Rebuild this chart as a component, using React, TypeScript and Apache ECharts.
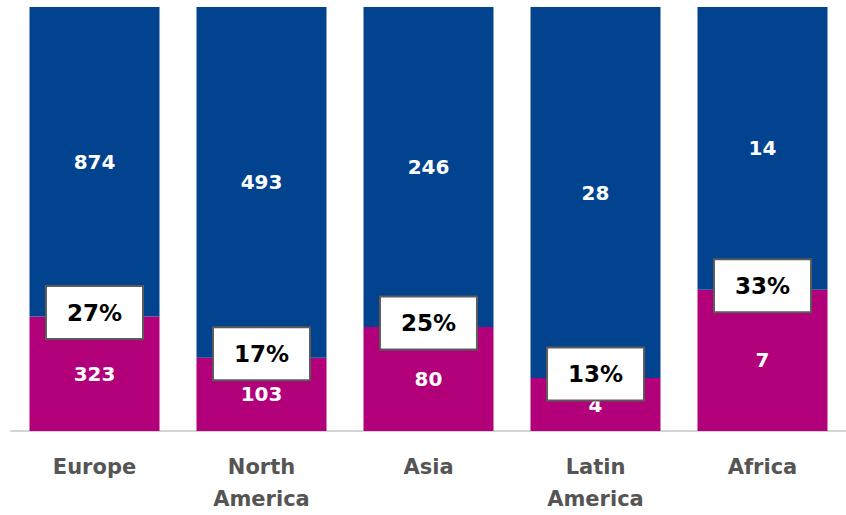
import React, { useEffect, useRef } from "react";
import * as echarts from "echarts";

const categories = ["Europe", "North\nAmerica", "Asia", "Latin\nAmerica", "Africa"];
const pinkValues = [323, 103, 80, 4, 7];
const blueValues = [874, 493, 246, 28, 14];
const percentLabels = ["27%", "17%", "25%", "13%", "33%"];

const BLUE = "#02438f";
const PINK = "#b2007b";
const FONT = "DejaVu Sans";

export default function App() {
  const ref = useRef<HTMLDivElement>(null);
  useEffect(() => {
    if (!ref.current) return;
    const chart = echarts.init(ref.current, undefined, { renderer: "svg" });
    const totals = pinkValues.map((p, i) => p + blueValues[i]);
    const pinkShare = pinkValues.map((p, i) => p / totals[i]);
    const blueShare = blueValues.map((b, i) => b / totals[i]);
    chart.setOption({
      animation: false,
      grid: { left: 11, top: 7, bottom: 77, width: 838 },
      xAxis: {
        type: "category",
        data: categories,
        axisLine: { show: true, lineStyle: { color: "#d4d4d4", width: 2 } },
        axisTick: { show: false },
        axisLabel: {
          color: "#555555",
          fontFamily: FONT,
          fontWeight: "bold",
          fontSize: 21,
          lineHeight: 32,
          margin: 20,
        },
      },
      yAxis: {
        type: "value",
        min: 0,
        max: 1,
        show: false,
        splitLine: { show: false },
      },
      series: [
        {
          type: "bar",
          stack: "s",
          barWidth: 130,
          data: pinkShare,
          itemStyle: { color: PINK },
          label: {
            show: true,
            position: "inside",
            color: "#ffffff",
            fontFamily: FONT,
            fontWeight: "bold",
            fontSize: 20,
            formatter: (p: any) => String(pinkValues[p.dataIndex]),
          },
          z: 2,
        },
        {
          type: "bar",
          stack: "s",
          barWidth: 130,
          data: blueShare,
          itemStyle: { color: BLUE },
          label: {
            show: true,
            position: "inside",
            color: "#ffffff",
            fontFamily: FONT,
            fontWeight: "bold",
            fontSize: 20,
            formatter: (p: any) => String(blueValues[p.dataIndex]),
          },
          z: 2,
        },
        {
          type: "scatter",
          data: pinkShare,
          symbolSize: 0,
          z: 5,
          itemStyle: { opacity: 1 },
          emphasis: { disabled: true },
          label: {
            show: true,
            position: "inside",
            offset: [0, -4],
            opacity: 1,
            formatter: (p: any) => percentLabels[p.dataIndex],
            color: "#000000",
            fontFamily: FONT,
            fontWeight: "bold",
            fontSize: 23,
            backgroundColor: "#ffffff",
            borderColor: "#5a5a5a",
            borderWidth: 2,
            padding: [14, 20, 14, 20],
          },
        },
      ],
    });
    return () => chart.dispose();
  }, []);
  return <div ref={ref} style={{ width: 846, height: 515, position: "absolute", left: 0, top: 0 }} />;
}
